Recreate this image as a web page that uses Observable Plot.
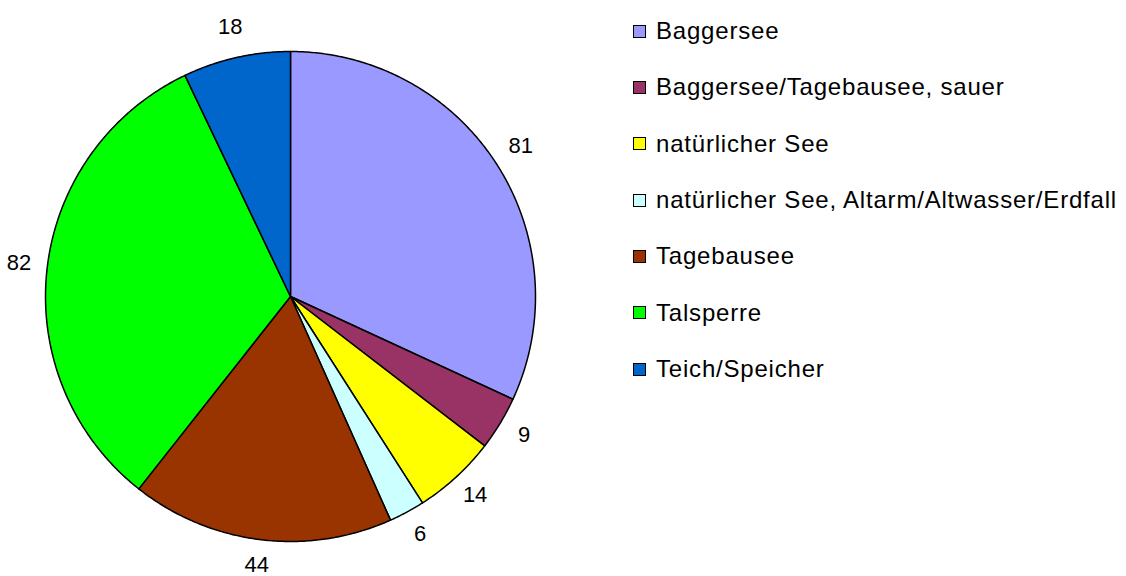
<!DOCTYPE html>
<html>
<head>
<meta charset="utf-8">
<script src="https://cdn.jsdelivr.net/npm/d3@7"></script>
<script src="https://cdn.jsdelivr.net/npm/@observablehq/plot@0.6"></script>
<style>
  html, body { margin: 0; padding: 0; background: #fff; }
  #wrap { position: relative; width: 1126px; height: 576px; font-family: "Liberation Sans", Arial, sans-serif; }
  #legend { position: absolute; left: 633px; top: 3px; }
  .item { display: flex; align-items: center; height: 56.33px; font-size: 24px; letter-spacing: 0.8px; color: #000; white-space: nowrap; }
  .sw { width: 11px; height: 11px; border: 1px solid #000; margin-right: 10px; flex: none; }
</style>
</head>
<body>
<div id="wrap"><div id="legend"></div></div>
<script>
const categories = ["Baggersee", "Baggersee/Tagebausee, sauer", "natürlicher See", "natürlicher See, Altarm/Altwasser/Erdfall", "Tagebausee", "Talsperre", "Teich/Speicher"];
const values = [81, 9, 14, 6, 44, 82, 18];
const colors = ["#9999FF", "#993366", "#FFFF00", "#CCFFFF", "#993300", "#00FF00", "#0066CC"];

const total = d3.sum(values);
const polys = [];
const labels = [];
let acc = 0;
categories.forEach((name, i) => {
  const a0 = acc / total * 2 * Math.PI;
  acc += values[i];
  const a1 = acc / total * 2 * Math.PI;
  polys.push({name, x: 0, y: 0});
  const n = Math.max(2, Math.ceil((a1 - a0) / (Math.PI / 360)));
  for (let k = 0; k <= n; k++) {
    const a = a0 + (a1 - a0) * k / n;
    polys.push({name, x: Math.sin(a), y: Math.cos(a)});
  }
  const am = (a0 + a1) / 2;
  labels.push({name, value: values[i], x: 1.115 * Math.sin(am), y: 1.115 * Math.cos(am)});
});

const plot = Plot.plot({
  width: 1126,
  height: 576,
  margin: 0,
  style: {fontFamily: '"Liberation Sans", Arial, sans-serif', background: "#fff"},
  x: {domain: [-1, 1], range: [45, 535], axis: null},
  y: {domain: [-1, 1], range: [541, 51], axis: null},
  color: {domain: categories, range: colors},
  marks: [
    Plot.line(polys, {x: "x", y: "y", z: "name", fill: "name", stroke: "#000", strokeWidth: 1.5, curve: "linear-closed"}),
    Plot.text(labels, {x: "x", y: "y", dy: -3, text: d => String(d.value), fontSize: 22, fill: "#000"})
  ]
});
document.getElementById("wrap").prepend(plot);

const legend = document.getElementById("legend");
categories.forEach((c, i) => {
  const item = document.createElement("div");
  item.className = "item";
  const sw = document.createElement("div");
  sw.className = "sw";
  sw.style.background = colors[i];
  const t = document.createElement("span");
  t.textContent = c;
  item.appendChild(sw);
  item.appendChild(t);
  legend.appendChild(item);
});
</script>
</body>
</html>
